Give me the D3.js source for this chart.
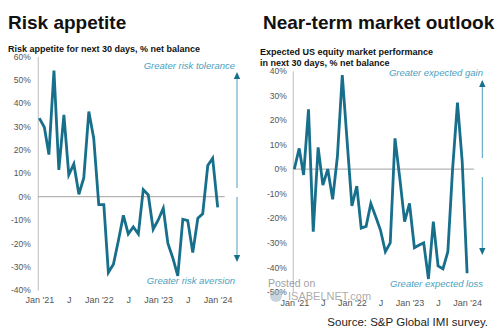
<!DOCTYPE html>
<html>
<head>
<meta charset="utf-8">
<script src="https://cdn.jsdelivr.net/npm/d3@7"></script>
<style>
  body { margin: 0; background: #fff; }
  svg { display: block; font-family: "Liberation Sans", Arial, sans-serif; }
</style>
</head>
<body>
<script>
// monthly survey readings, Jan '21 .. Jan '24
var months = d3.utcMonths(new Date(Date.UTC(2021, 0, 1)), new Date(Date.UTC(2024, 0, 2)));

var riskAppetite = [
  33.6, 29.7, 18, 54, 11.4, 35, 9.3, 14, 1, 8, 36.4, 25,
  -3.4, -3.4, -32.5, -29, -19, -8, -16, -13, -16, 3, 0.7, -14,
  -10, -5, -20, -26.4, -34, -9.7, -10.3, -24, -9.3, -7.4, 13.3, 16.4,
  -4.6
];

var marketOutlook = [
  0, 8.4, -2.4, 24.3, -25.5, 8.8, -6.5, 0, -12.3, 5, 38.2, 12,
  -15, -6.9, -24, -23.3, -14, -19.4, -24.8, -33.6, -30, 12.5, -4, -21.4,
  -14, -32, -31, -30, -44.7, -21.4, -39.4, -40.6, -33.6, 0, 27, 3,
  -42.4
];

var leftTicks = [-40, -30, -20, -10, 0, 10, 20, 30, 40, 50, 60];
var rightTicks = [-50, -40, -30, -20, -10, 0, 10, 20, 30, 40];
var xTickDates = [0, 6, 12, 18, 24, 30, 36].map(function(i) { return months[i]; });

var lineColor = '#176f8c';
var noteColor = '#4a9fc0';

var svg = d3.select('body').append('svg')
  .attr('width', 500)
  .attr('height', 336);

svg.append('rect').attr('width', 500).attr('height', 336).attr('fill', '#fff');

var xFormat = function(d) {
  return d.getUTCMonth() === 0 ? "Jan '" + String(d.getUTCFullYear()).slice(2) : 'J';
};

var drawPanel = function(p) {
  var g = svg.append('g');

  g.append('text')
    .attr('x', p.titleX).attr('y', 28.5)
    .attr('font-size', 19).attr('font-weight', 'bold').attr('fill', '#111')
    .text(p.title);

  g.selectAll('.sub').data(p.subtitle).enter().append('text')
    .attr('x', p.left).attr('y', function(d, i) { return p.subY + i * 10.5; })
    .attr('font-size', 9).attr('font-weight', 'bold').attr('fill', '#111')
    .text(function(d) { return d; });

  var x = d3.scaleUtc().domain([months[0], months[36]]).range(p.xRange);
  var y = d3.scaleLinear().domain(p.yDomain).range(p.yRange);

  // y axis (line + labels)
  var yAxis = g.append('g')
    .attr('transform', 'translate(' + (p.xRange[0] - 1.5) + ',0)')
    .call(d3.axisLeft(y).tickValues(p.yTicks).tickSize(0).tickPadding(p.yPad)
      .tickFormat(function(d) { return d + '%'; }));
  yAxis.select('.domain').attr('stroke', '#c8c8c8').attr('stroke-width', 1.2);
  yAxis.selectAll('text').attr('font-size', 8.5).attr('fill', '#555')
    .attr('font-family', '"Liberation Sans", Arial, sans-serif');

  // x axis labels
  var xAxis = g.append('g')
    .attr('transform', 'translate(0,' + p.xLabelY + ')')
    .call(d3.axisBottom(x).tickValues(xTickDates).tickSize(0).tickPadding(0).tickFormat(xFormat));
  xAxis.select('.domain').remove();
  xAxis.selectAll('text').attr('font-size', 9).attr('fill', '#555')
    .attr('font-family', '"Liberation Sans", Arial, sans-serif');

  // zero line
  g.append('line')
    .attr('x1', p.xRange[0] - 1.5).attr('x2', x(months[36]) + 7)
    .attr('y1', y(0)).attr('y2', y(0))
    .attr('stroke', '#b4b4b4').attr('stroke-width', 1.2);

  var line = d3.line()
    .x(function(d, i) { return x(months[i]); })
    .y(function(d) { return y(d); });

  g.append('path')
    .datum(p.values)
    .attr('d', line)
    .attr('fill', 'none')
    .attr('stroke', lineColor)
    .attr('stroke-width', 2.8)
    .attr('stroke-linejoin', 'miter');

  // direction arrows
  var ax = p.arrowX;
  g.append('line').attr('x1', ax).attr('x2', ax).attr('y1', p.upTip + 6).attr('y2', p.upEnd)
    .attr('stroke', noteColor).attr('stroke-width', 1);
  g.append('path')
    .attr('d', 'M' + ax + ',' + p.upTip + 'L' + (ax - 3.2) + ',' + (p.upTip + 7) + 'L' + (ax + 3.2) + ',' + (p.upTip + 7) + 'Z')
    .attr('fill', lineColor);
  g.append('line').attr('x1', ax).attr('x2', ax).attr('y1', p.downStart).attr('y2', p.downTip - 6)
    .attr('stroke', noteColor).attr('stroke-width', 1);
  g.append('path')
    .attr('d', 'M' + ax + ',' + p.downTip + 'L' + (ax - 3.2) + ',' + (p.downTip - 7) + 'L' + (ax + 3.2) + ',' + (p.downTip - 7) + 'Z')
    .attr('fill', lineColor);

  g.append('text')
    .attr('x', p.noteRight).attr('y', p.upNoteY)
    .attr('text-anchor', 'end').attr('font-size', 9.5).attr('font-style', 'italic').attr('fill', noteColor)
    .text(p.upNote);
  g.append('text')
    .attr('x', p.noteRight).attr('y', p.downNoteY)
    .attr('text-anchor', 'end').attr('font-size', 9.5).attr('font-style', 'italic').attr('fill', noteColor)
    .text(p.downNote);
};

drawPanel({
  title: 'Risk appetite',
  titleX: 8,
  subtitle: ['Risk appetite for next 30 days, % net balance'],
  subY: 52,
  left: 8,
  values: riskAppetite,
  xRange: [39.3, 217.7],
  yDomain: [-40, 60],
  yRange: [290, 56.5],
  yTicks: leftTicks,
  yPad: 7,
  xLabelY: 297,
  arrowX: 237,
  upTip: 72, upEnd: 188,
  downStart: 197, downTip: 262,
  noteRight: 235,
  upNote: 'Greater risk tolerance', upNoteY: 69,
  downNote: 'Greater risk aversion', downNoteY: 284
});

drawPanel({
  title: 'Near-term market outlook',
  titleX: 263,
  subtitle: ['Expected US equity market performance', 'in next 30 days, % net balance'],
  subY: 55,
  left: 260,
  values: marketOutlook,
  xRange: [294.3, 467.1],
  yDomain: [-50, 40],
  yRange: [292, 70.7],
  yTicks: rightTicks,
  yPad: 6,
  xLabelY: 300,
  arrowX: 482.3,
  upTip: 80, upEnd: 158,
  downStart: 177, downTip: 255,
  noteRight: 483,
  upNote: 'Greater expected gain', upNoteY: 75.5,
  downNote: 'Greater  expected loss', downNoteY: 287
});

// watermark
svg.append('text').attr('x', 268).attr('y', 287)
  .attr('font-size', 10.5).attr('fill', '#8a8a8a').attr('opacity', 0.8).text('Posted on');
svg.append('circle').attr('cx', 276).attr('cy', 296).attr('r', 6)
  .attr('fill', '#9ab3c4').attr('opacity', 0.55);
svg.append('text').attr('x', 288).attr('y', 300)
  .attr('font-size', 11).attr('fill', '#8a8a8a').attr('opacity', 0.7).text('ISABELNET.com');

svg.append('text')
  .attr('x', 488).attr('y', 325.5)
  .attr('text-anchor', 'end').attr('font-size', 11.5).attr('fill', '#222')
  .text('Source: S&P Global IMI survey.')
</script>
</body>
</html>
